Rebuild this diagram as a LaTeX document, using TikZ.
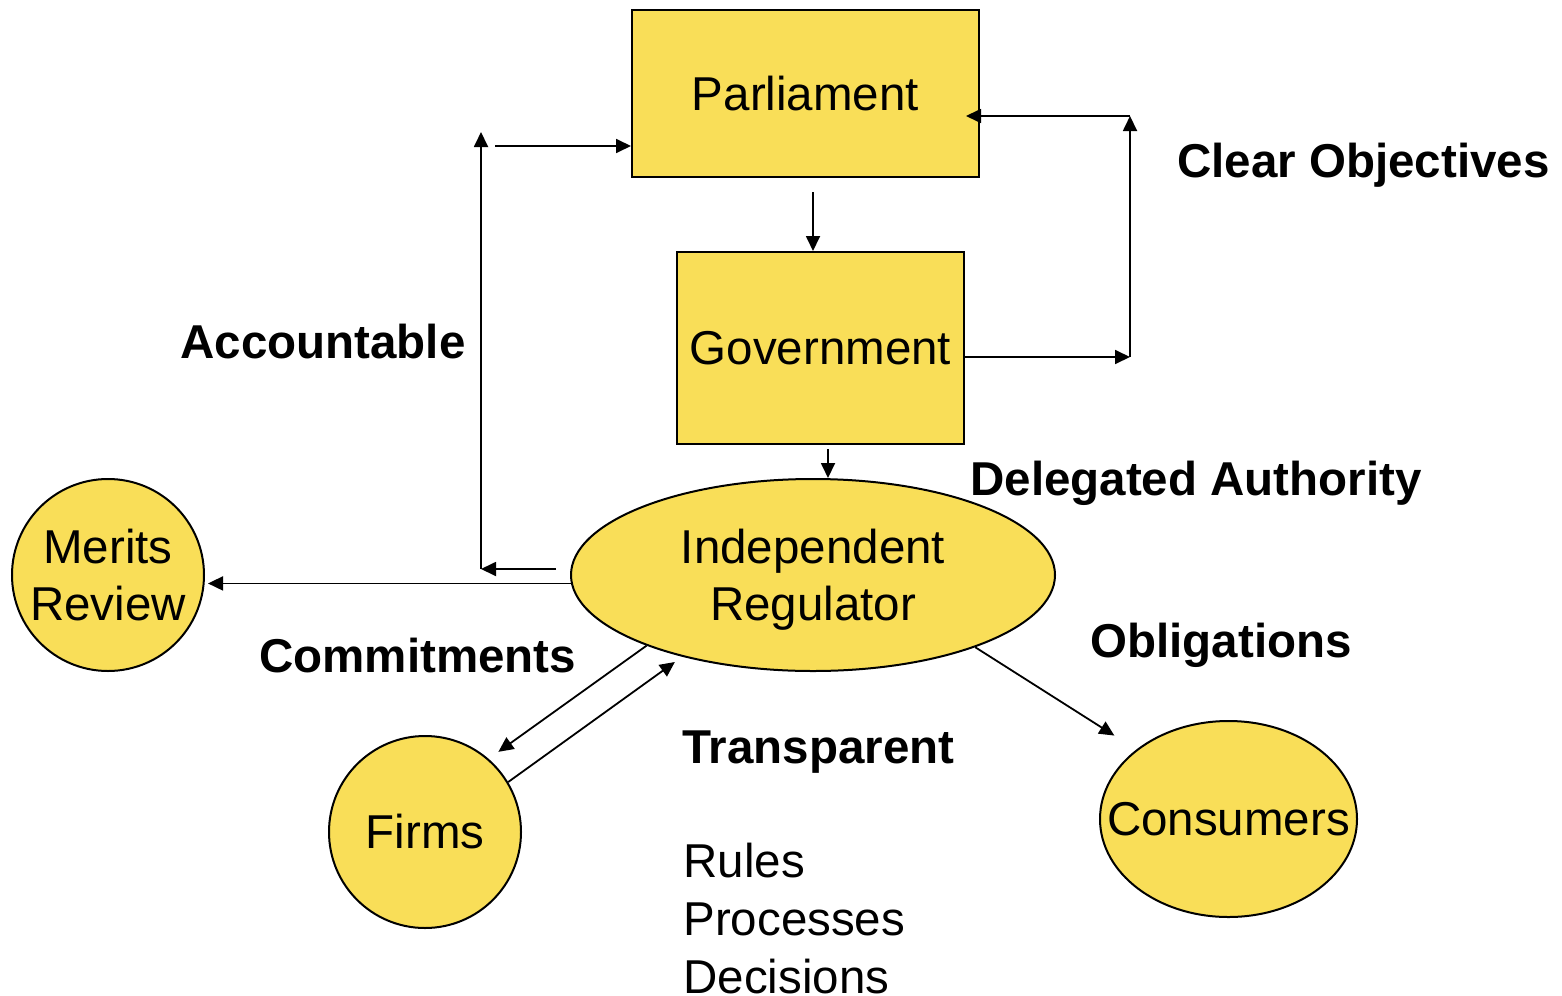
\documentclass[tikz,border=0pt]{standalone}
\usepackage{fontspec}
\setmainfont{Liberation Sans}
\usetikzlibrary{arrows.meta,shapes.geometric}
\definecolor{yel}{RGB}{249,222,88}
\tikzset{
  box/.style={draw=black,line width=1pt,fill=yel,inner sep=0pt,align=center,font=\fontsize{23.75pt}{28.5pt}\selectfont},
  rbox/.style={box,rectangle},
  ebox/.style={box,ellipse},
  arr/.style={line width=0.9pt,-{Triangle[length=7.5pt,width=7pt]}},
  lbl/.style={inner sep=0pt,anchor=base west,font=\fontsize{23.75pt}{28.5pt}\selectfont\bfseries},
  txt/.style={inner sep=0pt,anchor=base west,font=\fontsize{23.75pt}{28.5pt}\selectfont},
}
\begin{document}
\begin{tikzpicture}[x=0.5pt,y=-0.5pt]
\useasboundingbox (0,0) rectangle (1562,995);
% shapes
\node[rbox,minimum width=173.5pt,minimum height=83.5pt] (parl) at (805.5,93.5) {Parliament};
\node[rbox,minimum width=143.5pt,minimum height=96pt] (gov) at (820.5,348) {Government};
\node[ebox,minimum width=242pt,minimum height=96pt,text depth=0pt] (reg) at (813,575) {Independent\\Regulator};
\node[ebox,minimum width=96pt,minimum height=96pt,inner xsep=-12pt] (merits) at (108,575) {Merits\\Review};
\node[ebox,minimum width=96pt,minimum height=96pt] (firms) at (425,832) {Firms};
\node[ebox,minimum width=128.5pt,minimum height=98pt,inner xsep=-22pt] (cons) at (1228.5,819) {Consumers};
% coordinates
\coordinate (p2g) at (813,192);
\coordinate (g2r) at (828,449);
\coordinate (gr1) at (1130,357);
\coordinate (gr2) at (1130,116);
\coordinate (al1) at (556,569);
\coordinate (al2) at (481,569);
\coordinate (al3) at (481,132);
\coordinate (al4) at (495,146);
% connectors
\draw[arr] (p2g) -- (p2g |- gov.north);
\draw[arr] (g2r) -- (g2r |- reg.north);
\draw[arr] (gr1 -| gov.east) -- (gr1);
\draw[arr] (gr1) -- (gr2);
\draw[arr] (gr2) -- ([xshift=-7pt]gr2 -| parl.east);
\draw[arr] (al1) -- (al2);
\draw[arr] (al2) -- (al3);
\draw[arr] (al4) -- (al4 -| parl.west);
\draw[arr,shorten >=1.5pt] (reg.182.4) -- (reg.182.4 -| merits.east);
\draw[arr,shorten >=6pt] (reg.203.2) -- (firms.49);
\draw[arr,shorten >=4.5pt] (firms.31.5) -- (reg.212.1);
\draw[arr,shorten >=13pt] (reg.336.8) -- (cons.143.4);
% labels
\node[lbl] (lco) at (1177,177) {Clear Objectives};
\node[lbl] (lac) at (180,358) {Accountable};
\node[lbl] (lda) at (970,495) {Delegated Authority};
\node[lbl] (lob) at (1090,657) {Obligations};
\node[lbl] (lcm) at (259,672) {Commitments};
\node[lbl] (ltr) at (682,763) {Transparent};
\node[txt] (lru) at (683,877) {Rules};
\node[txt] (lpr) at (683,935) {Processes};
\node[txt] (lde) at (683,993) {Decisions};
\end{tikzpicture}
\end{document}
